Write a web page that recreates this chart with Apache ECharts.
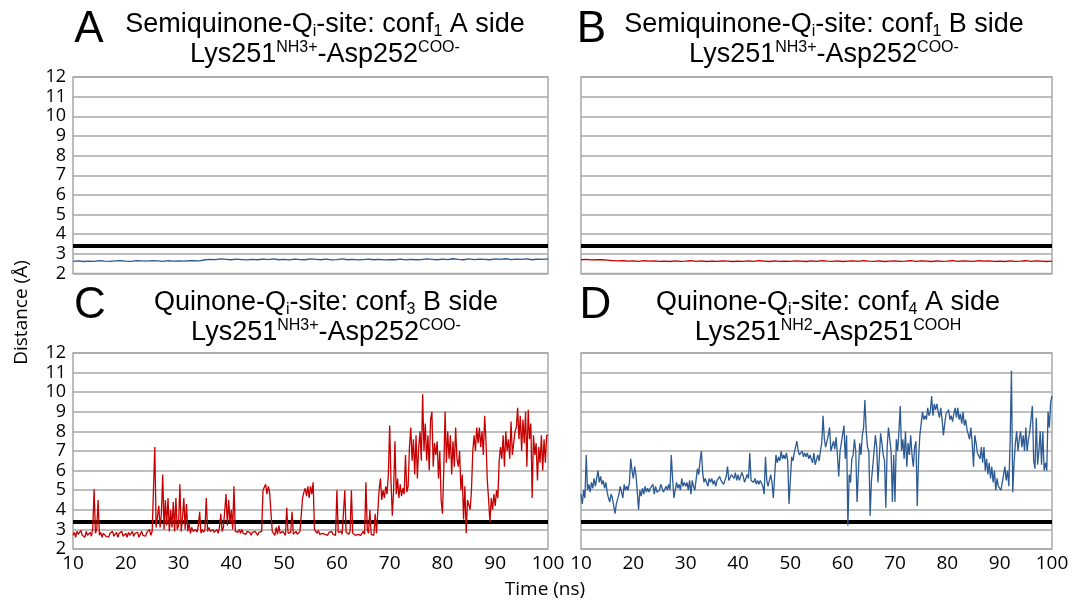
<!DOCTYPE html>
<html><head><meta charset="utf-8">
<script src="https://cdn.jsdelivr.net/npm/echarts@6/dist/echarts.min.js"></script>
<style>html,body{margin:0;padding:0;background:#fff}#c{width:1072px;height:602px}</style>
</head><body><div id="c"></div>
<script>
// ---- data ----
const xTickLabels = [10,20,30,40,50,60,70,80,90,100];
const yTickLabels = [2,3,4,5,6,7,8,9,10,11,12];
const threshold = 3.4;
const timeStartNs = 10;
const stepTopNs = 1;      // sampling of panels A, B
const stepBottomNs = 0.25; // sampling of panels C, D

const distA = [2.62,2.64,2.61,2.63,2.62,2.65,2.63,2.62,2.64,2.66,
2.63,2.62,2.65,2.64,2.63,2.66,2.64,2.62,2.65,2.63,
2.64,2.63,2.65,2.66,2.64,2.70,2.72,2.71,2.74,2.72,
2.70,2.73,2.71,2.69,2.72,2.70,2.73,2.71,2.74,2.70,
2.72,2.69,2.73,2.71,2.70,2.74,2.72,2.70,2.73,2.69,
2.71,2.74,2.70,2.72,2.69,2.71,2.73,2.70,2.72,2.69,
2.71,2.70,2.73,2.69,2.72,2.70,2.71,2.74,2.72,2.70,
2.73,2.71,2.75,2.72,2.70,2.74,2.71,2.73,2.72,2.70,
2.74,2.72,2.75,2.71,2.73,2.72,2.74,2.70,2.73,2.72,
2.74];

const distB = [2.70,2.72,2.69,2.71,2.70,2.68,2.66,2.64,2.65,2.63,
2.64,2.62,2.65,2.63,2.64,2.62,2.63,2.61,2.64,2.62,
2.63,2.65,2.62,2.64,2.61,2.63,2.62,2.64,2.63,2.61,
2.63,2.62,2.64,2.62,2.65,2.63,2.61,2.64,2.62,2.63,
2.62,2.64,2.63,2.61,2.64,2.62,2.65,2.63,2.62,2.64,
2.61,2.63,2.64,2.62,2.65,2.63,2.62,2.64,2.61,2.63,
2.64,2.62,2.63,2.65,2.62,2.64,2.63,2.61,2.64,2.62,
2.63,2.65,2.62,2.64,2.63,2.62,2.65,2.63,2.64,2.62,
2.63,2.61,2.64,2.62,2.63,2.65,2.62,2.64,2.63,2.61,
2.63];

// one row per ns: t, t+0.25, t+0.5, t+0.75
const distC = [
2.7,2.85,2.6,2.9,
2.75,2.65,2.95,2.7,
2.8,2.6,2.9,2.7,
2.75,2.85,2.65,3.1,
5.05,2.8,3.0,4.5,
2.7,2.85,2.6,2.8,
2.9,2.65,2.75,2.6,
2.8,2.7,2.9,2.65,
2.75,2.85,2.6,2.8,
2.7,2.9,2.65,2.75,
2.8,2.6,2.85,2.7,
2.75,2.9,2.65,2.8,
2.7,2.85,2.6,2.75,
2.9,2.7,2.8,2.65,
2.85,2.75,3.0,2.7,
2.9,2.8,7.2,3.1,
3.0,4.2,3.1,3.8,
5.8,3.0,4.5,3.2,
4.6,2.9,4.0,3.1,
4.4,2.9,4.6,3.0,
3.2,5.3,2.9,3.6,
4.6,3.0,4.3,2.9,
3.3,2.8,3.1,2.9,
2.8,3.0,2.85,3.2,
3.9,2.8,3.0,2.85,
3.0,4.6,2.9,3.1,
2.9,2.8,3.0,2.85,
2.9,3.0,2.8,3.1,
3.8,2.9,3.1,3.0,
4.8,3.2,4.5,3.3,
4.0,3.0,5.2,2.9,
2.9,2.85,3.0,2.8,
3.0,2.8,2.9,2.75,
2.9,2.8,2.85,2.7,
2.85,2.75,2.9,2.8,
2.7,2.85,2.75,2.9,
5.0,4.9,5.3,4.8,
5.2,4.9,5.0,2.9,
2.8,2.7,3.1,2.75,
3.2,2.8,2.75,2.9,
2.8,2.7,4.1,2.8,
2.7,2.85,3.9,2.75,
2.8,2.9,2.75,2.8,
2.9,2.8,4.6,4.9,
5.1,4.7,5.2,4.6,
5.2,4.8,5.4,3.0,
2.9,2.8,2.95,2.75,
2.85,2.8,2.9,2.75,
2.8,2.7,2.85,2.8,
2.9,2.75,2.8,2.7,
5.0,2.85,2.8,2.9,
2.75,2.8,5.0,2.85,
2.8,2.75,2.9,5.0,
2.8,2.85,2.7,2.8,
2.75,2.85,2.7,2.8,
2.9,2.75,5.4,3.0,
2.8,4.0,2.75,2.85,
2.7,3.8,2.8,2.75,
5.0,5.6,4.5,5.0,
4.6,5.2,4.8,5.8,
8.3,5.5,3.7,5.0,
7.5,4.8,5.6,4.6,
5.3,4.7,5.1,4.8,
6.8,4.9,5.2,7.2,
8.2,6.5,7.6,5.8,
7.8,5.6,7.2,8.0,
6.5,9.9,7.0,8.4,
6.5,7.8,6.0,8.6,
9.0,6.2,7.4,6.8,
7.5,5.6,7.0,4.5,
3.8,6.0,9.0,6.4,
8.0,6.6,7.8,5.8,
7.5,6.2,8.2,6.6,
6.2,7.0,5.0,5.8,
3.5,5.2,2.8,4.5,
4.5,4.0,5.0,7.0,
7.8,7.0,8.2,7.4,
8.2,7.2,8.0,6.8,
8.8,7.5,5.5,4.5,
3.35,4.6,4.0,4.8,
4.2,5.0,4.6,6.5,
7.2,6.6,7.8,6.2,
8.0,7.0,7.6,6.6,
8.5,6.8,7.4,8.0,
8.2,9.2,7.6,8.8,
7.0,8.6,7.4,9.0,
6.2,9.1,7.6,8.4,
4.6,7.8,6.8,7.4,
5.5,7.2,6.4,7.8,
6.0,7.6,6.4,7.8,
7.8];

const distD = [
4.8,4.3,5.0,4.6,
6.8,5.0,5.3,4.9,
5.4,5.1,5.6,5.2,
5.6,6.0,5.4,5.7,
5.3,5.5,5.1,5.4,
4.9,4.6,4.4,4.8,
4.6,4.2,3.8,4.3,
4.2,4.8,5.2,4.9,
4.6,5.3,5.0,5.2,
5.0,5.4,6.6,6.0,
5.6,6.2,5.8,4.9,
4.0,5.0,4.7,5.1,
4.8,5.2,4.9,5.1,
4.9,5.1,5.0,5.3,
4.8,5.2,4.9,5.0,
5.0,5.3,5.1,4.9,
4.9,5.2,5.0,5.3,
5.0,6.8,5.6,4.6,
4.6,5.4,5.1,5.3,
5.0,5.6,5.2,5.4,
5.2,5.4,5.0,5.5,
4.8,5.5,5.2,5.0,
5.1,6.1,5.8,6.5,
7.0,5.9,5.4,5.6,
5.5,5.2,5.6,5.4,
5.6,5.3,5.5,5.2,
5.5,5.4,5.7,5.5,
5.6,5.3,5.5,5.7,
6.2,5.5,5.6,5.8,
5.7,5.6,5.9,5.5,
5.8,5.5,5.7,5.9,
5.7,5.4,5.6,5.8,
5.6,6.9,5.5,5.4,
5.4,5.6,5.3,5.5,
5.3,5.5,5.6,5.2,
4.8,6.7,5.5,5.2,
5.2,5.8,5.4,4.6,
4.6,6.8,6.4,6.7,
6.5,7.0,6.6,6.8,
6.6,6.9,6.5,4.3,
4.3,6.7,6.5,6.9,
6.9,7.5,7.0,6.8,
6.8,7.0,6.7,6.9,
6.7,6.9,6.6,6.8,
6.6,6.4,6.9,6.3,
6.2,6.8,6.5,7.0,
7.4,8.8,7.6,7.2,
7.2,7.8,8.2,7.0,
6.9,7.5,7.1,7.7,
6.8,5.7,7.0,7.4,
7.3,8.3,6.6,7.8,
3.2,5.8,5.4,6.6,
6.8,7.6,7.0,4.4,
4.4,7.4,6.8,7.8,
8.2,9.6,8.0,7.2,
7.0,3.7,5.5,6.2,
6.2,7.8,7.2,5.4,
5.4,7.9,7.4,6.8,
6.5,4.1,7.2,8.2,
8.2,7.0,4.4,6.8,
4.4,7.6,7.0,8.0,
9.3,7.0,7.6,6.6,
8.0,6.2,7.4,6.8,
7.8,6.8,6.2,7.2,
7.5,4.2,6.6,7.8,
8.4,9.0,8.6,8.8,
8.6,9.2,8.8,9.0,
9.8,8.8,9.4,9.1,
9.4,9.0,8.7,9.2,
8.6,7.8,8.4,8.9,
8.8,9.1,8.6,8.8,
8.5,8.9,9.2,8.7,
9.2,8.6,8.9,8.4,
9.0,8.3,8.6,8.1,
8.0,7.6,8.2,7.4,
6.2,7.8,7.4,6.9,
7.0,6.6,7.2,6.4,
7.2,6.0,6.6,5.8,
6.4,5.6,6.2,5.4,
6.0,5.0,5.6,5.2,
5.3,5.0,5.4,5.8,
6.2,5.5,6.0,5.2,
7.5,11.1,4.9,6.4,
7.4,8.0,7.0,7.6,
8.0,7.2,7.8,7.0,
8.2,7.0,7.6,8.0,
8.0,9.3,6.5,6.1,
8.7,6.3,7.0,8.0,
6.3,8.0,6.0,6.4,
6.0,9.0,8.2,9.5,
9.8];

const titleLines = [
  ['{t|Semiquinone-Q}{sub|i}{t|-site: conf}{sub|1}{t| A side}', '{t|Lys251}{sup|NH3+}{t|-Asp252}{sup|COO-}'],
  ['{t|Semiquinone-Q}{sub|i}{t|-site: conf}{sub|1}{t| B side}', '{t|Lys251}{sup|NH3+}{t|-Asp252}{sup|COO-}'],
  ['{t|Quinone-Q}{sub|i}{t|-site: conf}{sub|3}{t| B side}', '{t|Lys251}{sup|NH3+}{t|-Asp252}{sup|COO-}'],
  ['{t|Quinone-Q}{sub|i}{t|-site: conf}{sub|4}{t| A side}', '{t|Lys251}{sup|NH2}{t|-Asp251}{sup|COOH}']
];
const panelLetters = ['A','B','C','D'];
const xAxisName = 'Time (ns)';
const yAxisName = 'Distance (Å)';

// ---- layout / style ----
const BLUE = '#2c5a94', RED = '#c60000', GRIDC = '#a8a8a8';
const grids = [
  {left:73, top:77, width:475, height:196.5},
  {left:581, top:77, width:471, height:196.5},
  {left:73, top:353, width:475, height:196},
  {left:581, top:353, width:471, height:196}
];
const titlePos = [
  {cx:325, y1:24.5, y2:54.5, lx:89, ly:30},
  {cx:824, y1:24.5, y2:54.5, lx:591.5, ly:30},
  {cx:326, y1:303, y2:333, lx:90, ly:306},
  {cx:828, y1:303, y2:333, lx:595.5, ly:306}
];

function pairs(vals, step){ return vals.map((v,i)=>[timeStartNs + i*step, v]); }

const rich = {
  t:{fontSize:27, fontFamily:'Liberation Sans', lineHeight:30, fill:'#000', color:'#000'},
  sup:{fontSize:16, fontFamily:'Liberation Sans', lineHeight:18, verticalAlign:'top', fill:'#000', color:'#000'},
  sub:{fontSize:16, fontFamily:'Liberation Sans', lineHeight:4, verticalAlign:'bottom', fill:'#000', color:'#000'}
};

const graphic = [];
titlePos.forEach((p,i)=>{
  graphic.push({type:'text', x:p.cx, y:p.y1, silent:true, style:{text:titleLines[i][0], rich:rich, align:'center', verticalAlign:'middle', fill:'#000'}});
  graphic.push({type:'text', x:p.cx, y:p.y2, silent:true, style:{text:titleLines[i][1], rich:rich, align:'center', verticalAlign:'middle', fill:'#000'}});
  graphic.push({type:'text', x:p.lx, y:p.ly, silent:true, style:{text:panelLetters[i], fontSize:44, fontFamily:'Liberation Sans', align:'center', verticalAlign:'middle', fill:'#000'}});
});
graphic.push({type:'text', x:22, y:312.5, rotation:Math.PI/2, silent:true, style:{text:yAxisName, fontSize:19, fontFamily:'Open Sans', align:'center', verticalAlign:'middle', fill:'#000'}});
graphic.push({type:'text', x:545, y:590, silent:true, style:{text:xAxisName, fontSize:19, fontFamily:'Open Sans', align:'center', verticalAlign:'middle', fill:'#000'}});

const xAxis = grids.map((g,i)=>({
  type:'value', gridIndex:i, min:xTickLabels[0], max:xTickLabels[xTickLabels.length-1], interval:10,
  axisLine:{show:false}, axisTick:{show:false}, splitLine:{show:false},
  axisLabel:{show:i>=2, fontSize:19, fontFamily:'Open Sans', color:'#000', margin:5}
}));
const yAxis = grids.map((g,i)=>({
  type:'value', gridIndex:i, min:yTickLabels[0], max:yTickLabels[yTickLabels.length-1], interval:1,
  axisLine:{show:false}, axisTick:{show:false},
  splitLine:{show:true, lineStyle:{color:GRIDC, width:1.5}},
  axisLabel:{show:(i%2===0), fontSize:18, fontFamily:'Open Sans', color:'#000', margin:7}
}));

const seriesData = [pairs(distA, stepTopNs), pairs(distB, stepTopNs), pairs(distC, stepBottomNs), pairs(distD, stepBottomNs)];
const seriesColors = [BLUE, RED, RED, BLUE];
const series = seriesData.map((d,i)=>({
  type:'line', xAxisIndex:i, yAxisIndex:i, data:d, symbol:'none', showSymbol:false,
  lineStyle:{color:seriesColors[i], width:i>=2?1.3:1.3}, z:3,
  markLine:{silent:true, symbol:['none','none'], label:{show:false},
    lineStyle:{color:'#000', width:4, type:'solid'}, data:[{yAxis:threshold}], z:2}
}));

const chart = echarts.init(document.getElementById('c'));
chart.setOption({
  animation:false,
  backgroundColor:'#fff',
  grid: grids.map(g=>Object.assign({show:true, borderColor:GRIDC, borderWidth:1.5, backgroundColor:'transparent'}, g)),
  xAxis, yAxis, series, graphic
});
</script></body></html>
